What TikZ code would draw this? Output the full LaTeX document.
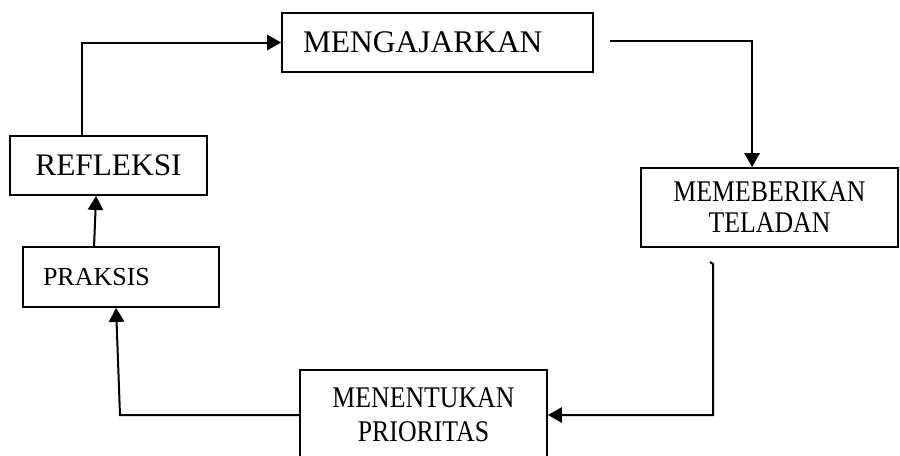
\documentclass[tikz,border=0pt]{standalone}
\usepackage{fontspec}
\setmainfont{Liberation Serif}
\newfontfamily\narrowserif[FakeStretch=0.86]{Liberation Serif}
\usetikzlibrary{arrows.meta,calc}
\begin{document}
\begin{tikzpicture}[x=0.75pt,y=-0.75pt,
  box/.style={draw, line width=1.4pt, rectangle, inner sep=0pt},
  conn/.style={draw, line width=1.5pt},
  tip/.style={-{Triangle[length=10.5pt,width=11.5pt]}}]
\useasboundingbox (0,0) rectangle (900,455);
\clip (0,0) rectangle (900,455);

\node[box, minimum width=233.25pt, minimum height=44.25pt, text width=201.75pt, inner xsep=15.75pt, align=left,
  font=\fontsize{23.6}{28}\selectfont] (teach) at (437.5,42.5) {MENGAJARKAN};
\node[box, minimum width=147.75pt, minimum height=44.25pt, align=center,
  font=\fontsize{23.5}{28}\selectfont] (refl) at (108.5,165.5) {REFLEKSI};
\node[box, minimum width=147pt, minimum height=45pt, text width=117pt, inner xsep=15pt, align=left,
  font=\fontsize{19.5}{23}\selectfont] (prak) at (121,277) {PRAKSIS};
\node[box, minimum width=192.75pt, minimum height=59.25pt, align=center,
  font=\narrowserif\fontsize{22.5}{23.25}\selectfont] (model) at (769.5,207.5) {MEMEBERIKAN\\TELADAN};
\node[box, minimum width=185.25pt, minimum height=67.5pt, align=center,
  font=\narrowserif\fontsize{22.5}{25.5}\selectfont] (prio) at (423.5,415) {MENENTUKAN\\PRIORITAS};

\coordinate (s1) at (610,41);
\coordinate (f0) at (710,262);
\coordinate (f1) at (713,264);
\coordinate (b1) at (120,415);

\draw[conn, tip] ($(refl.north west)+(73,0)$) |- (teach.west);
\draw[conn, tip] (s1) -| ($(model.north west)+(112,0)$);
\draw[conn, tip] (f0) -- (f1) |- (prio.east);
\draw[conn, tip] (prio.west) -- (b1) -- ($(prak.south west)+(94,0)$);
\draw[conn, tip] ($(prak.north west)+(72,0)$) -- ($(refl.south west)+(87,0)$);
\end{tikzpicture}
\end{document}
